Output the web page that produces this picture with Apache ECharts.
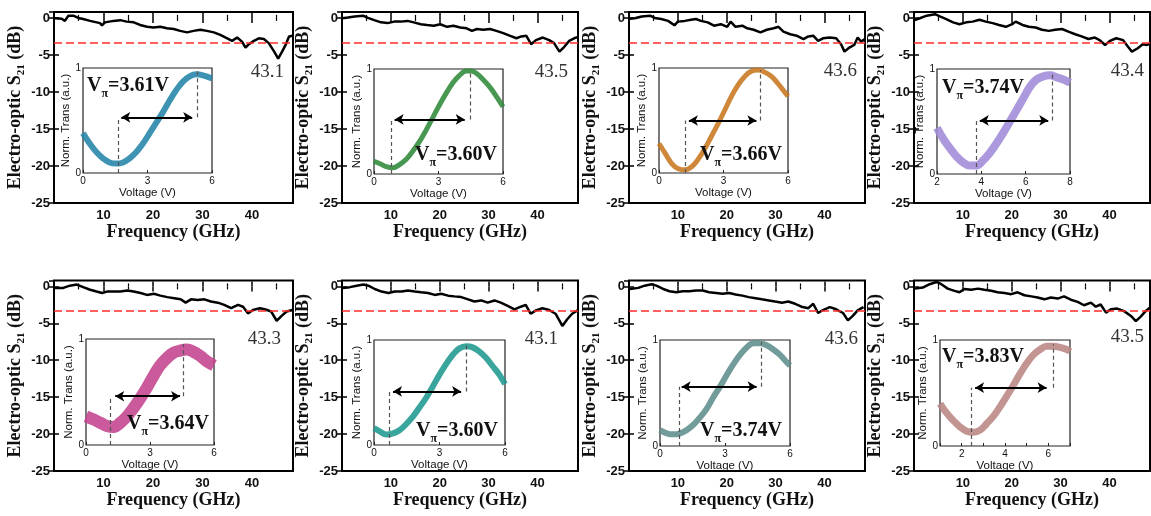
<!DOCTYPE html>
<html><head><meta charset="utf-8">
<script src="https://cdn.jsdelivr.net/npm/echarts@6/dist/echarts.min.js"></script>
<style>html,body{margin:0;padding:0;background:#fff}#c{width:1151px;height:516px}</style>
</head><body><div id="c"></div>
<script>
// ---------------- DATA ----------------
const bandwidthLabels = ['43.1', '43.5', '43.6', '43.4', '43.3', '43.1', '43.6', '43.5'];
const vpiLabels = ['3.61', '3.60', '3.66', '3.74', '3.64', '3.60', '3.74', '3.83'];
const threeDbLevel = -3.3;
const freqTicks = [10, 20, 30, 40];
const s21Ticks = [-25, -20, -15, -10, -5, 0];

// S21 response [frequency GHz, dB]
const s21Panel1 = [[0.2,-0.05],[1.55,-0.1],[2.2,-0.4],[2.9,0.3],[3.9,0.3],[4.9,0],[5.9,-0.15],[7.3,-0.4],[9.3,-0.7],[9.7,-1.0],[10.3,-0.6],[12.0,-0.4],[13.4,-0.3],[14.7,-0.5],[16.1,-0.6],[17.4,-0.95],[18.8,-1.2],[20.1,-1.3],[21.5,-1.2],[22.8,-1.4],[24.2,-1.5],[25.5,-1.75],[26.9,-1.95],[28.2,-1.75],[29.6,-1.6],[30.9,-1.75],[32.3,-1.95],[33.6,-2.3],[35.0,-2.75],[36.0,-3.1],[37.0,-2.65],[38.0,-3.2],[38.7,-4.0],[39.4,-3.55],[40.4,-3.1],[41.4,-2.75],[42.4,-2.85],[43.4,-3.4],[44.5,-4.55],[45.3,-5.5],[46.1,-4.55],[46.8,-3.65],[47.5,-2.5],[48.2,-2.4]];
const s21Panel2 = [[0.1,-0.05],[1.2,0.05],[2.6,0.2],[4.3,0.3],[5.3,0],[6.6,-0.3],[8.0,-0.6],[9.3,-0.7],[10.7,-0.5],[12.0,-0.5],[13.4,-0.4],[14.7,-0.6],[16.1,-0.85],[17.4,-0.95],[18.8,-1.05],[20.1,-0.85],[21.5,-1.2],[22.8,-1.05],[24.2,-1.3],[25.5,-1.4],[26.6,-1.75],[27.6,-1.5],[28.9,-1.6],[30.3,-1.5],[31.6,-1.75],[33.0,-2.05],[34.3,-2.4],[35.7,-2.75],[36.7,-2.5],[37.7,-2.4],[38.7,-3.55],[39.7,-3.0],[41.1,-2.65],[42.4,-3.0],[43.4,-3.4],[44.5,-4.55],[45.5,-3.9],[46.5,-3.1],[47.5,-2.75],[48.2,-2.6]];
const s21Panel3 = [[0.1,-0.1],[1.2,-0.05],[2.6,0.2],[4.3,0.3],[5.3,0],[6.6,-0.15],[8.0,-0.4],[9.3,-1.0],[10.0,-0.5],[11.4,-0.4],[12.7,-0.25],[13.7,-0.15],[14.7,-0.4],[16.1,-0.6],[17.4,-1.05],[18.8,-0.85],[20.1,-1.2],[20.8,-0.5],[21.8,-1.2],[23.2,-1.05],[24.2,-1.4],[25.5,-1.6],[26.9,-1.95],[28.2,-1.6],[29.6,-1.4],[30.6,-1.2],[31.6,-1.85],[33.0,-2.2],[34.3,-2.4],[35.7,-2.85],[36.7,-2.5],[37.7,-2.4],[38.7,-3.1],[39.7,-2.75],[41.1,-2.65],[42.4,-2.75],[43.4,-3.55],[44.1,-4.55],[45.1,-4.0],[46.1,-3.65],[46.8,-2.65],[47.5,-3.2],[48.2,-2.9]];
const s21Panel4 = [[0.1,-0.3],[1.2,-0.05],[2.6,0.3],[4.3,0.5],[5.3,0.2],[6.6,-0.15],[8.0,-0.6],[9.3,-0.85],[10.7,-0.6],[12.0,-0.5],[13.4,-0.25],[14.7,-0.5],[16.1,-0.7],[17.4,-0.95],[18.8,-1.2],[20.1,-0.85],[20.8,-0.5],[22.2,-0.95],[23.5,-1.2],[24.9,-1.3],[26.2,-1.6],[27.6,-1.75],[28.9,-1.6],[30.3,-1.5],[31.6,-1.85],[33.0,-2.2],[34.3,-2.5],[35.7,-2.85],[37.0,-2.65],[38.0,-3.0],[39.1,-3.65],[40.1,-3.1],[41.4,-2.75],[42.8,-3.0],[43.8,-3.9],[44.6,-4.55],[45.8,-4.1],[46.8,-3.55],[47.7,-3.65],[48.2,-3.5]];
const s21Panel5 = [[0.2,-0.2],[1.9,-0.2],[3.2,0.1],[4.6,0.25],[5.9,-0.1],[7.3,-0.45],[8.6,-0.7],[9.7,-0.9],[10.7,-0.7],[12.0,-0.7],[13.4,-0.7],[14.8,-0.55],[16.1,-0.7],[17.5,-0.9],[18.8,-1.15],[20.2,-1.0],[21.5,-1.25],[22.9,-1.45],[24.3,-1.6],[25.6,-1.75],[26.6,-2.2],[27.7,-1.75],[29.0,-1.85],[30.4,-1.75],[31.7,-2.05],[33.1,-2.2],[34.4,-2.5],[35.8,-2.95],[37.2,-2.5],[38.2,-2.75],[39.2,-3.65],[40.2,-3.2],[41.6,-2.95],[42.6,-3.1],[43.9,-3.4],[45.0,-4.65],[46.0,-4.0],[47.0,-3.4],[48.2,-3.2]];
const s21Panel6 = [[0.2,-0.2],[1.6,-0.1],[3.0,0.1],[4.4,0.25],[5.4,0.1],[6.7,-0.35],[8.1,-0.7],[9.5,-0.9],[10.8,-0.7],[12.2,-0.7],[13.5,-0.55],[14.9,-0.7],[16.2,-0.8],[17.6,-0.9],[19.0,-1.15],[20.3,-1.0],[21.7,-1.25],[23.0,-1.35],[24.4,-1.45],[25.8,-1.75],[27.1,-2.05],[28.5,-1.9],[29.8,-2.2],[31.2,-1.9],[32.5,-2.2],[33.9,-2.65],[35.3,-3.1],[36.6,-2.75],[37.6,-2.5],[38.6,-3.7],[39.7,-3.25],[41.0,-2.95],[42.4,-3.2],[43.7,-3.7],[45.1,-5.35],[46.1,-4.45],[47.1,-3.7],[48.2,-3.25]];
const s21Panel7 = [[0.2,-0.35],[1.9,-0.2],[3.2,0.1],[4.6,0.3],[5.6,0.1],[7.0,-0.35],[8.3,-0.65],[9.7,-0.8],[11.0,-0.65],[12.4,-0.65],[13.7,-0.55],[15.1,-0.55],[16.4,-0.8],[17.8,-0.9],[19.1,-1.0],[20.5,-0.9],[21.8,-1.1],[23.2,-1.25],[24.5,-1.45],[25.9,-1.6],[27.2,-1.75],[28.6,-1.9],[29.9,-2.05],[31.3,-2.2],[32.6,-2.05],[34.0,-2.35],[35.3,-2.75],[36.7,-2.95],[37.7,-2.35],[38.7,-3.6],[39.7,-3.2],[41.1,-2.8],[42.4,-3.1],[43.8,-3.6],[44.8,-4.6],[45.8,-4.0],[46.8,-3.25],[48.0,-2.8]];
const s21Panel8 = [[0.2,-0.3],[1.8,-0.15],[3.2,0.3],[4.6,0.6],[5.6,0.3],[6.9,-0.3],[8.3,-0.6],[9.3,-0.8],[10.3,-0.35],[11.7,-0.45],[13.1,-0.3],[14.4,-0.45],[15.8,-0.6],[17.1,-0.8],[18.5,-0.9],[19.9,-1.05],[21.2,-0.8],[22.6,-1.2],[24.0,-1.35],[25.3,-1.5],[26.7,-1.75],[28.0,-1.5],[29.4,-1.65],[30.7,-1.35],[32.1,-1.8],[33.5,-2.1],[34.8,-2.55],[36.2,-2.2],[37.2,-2.75],[38.2,-2.45],[39.3,-3.55],[40.3,-3.1],[41.6,-3.0],[43.0,-3.35],[44.4,-4.0],[45.4,-4.7],[46.4,-4.1],[47.4,-3.35],[48.3,-2.85]];

// Inset transmission curves [voltage V, normalized transmission]
const insetPanel1 = [[0,0.38],[0.31,0.28],[0.62,0.2],[0.93,0.14],[1.24,0.10],[1.55,0.09],[1.86,0.10],[2.17,0.14],[2.48,0.2],[2.79,0.28],[3.1,0.38],[3.41,0.48],[3.72,0.58],[4.03,0.69],[4.34,0.79],[4.65,0.87],[4.96,0.92],[5.27,0.94],[5.58,0.93],[6,0.90]];
const insetPanel2 = [[0,0.12],[0.26,0.10],[0.57,0.07],[0.88,0.06],[1.19,0.09],[1.5,0.14],[1.81,0.22],[2.12,0.31],[2.43,0.42],[2.74,0.54],[3.05,0.66],[3.36,0.77],[3.67,0.87],[3.98,0.94],[4.29,0.98],[4.53,0.98],[4.76,0.96],[5.07,0.90],[5.38,0.83],[5.69,0.74],[6,0.64]];
const insetPanel3 = [[0,0.28],[0.28,0.19],[0.59,0.09],[0.9,0.04],[1.21,0.03],[1.52,0.06],[1.82,0.13],[2.13,0.23],[2.44,0.35],[2.75,0.47],[3.06,0.6],[3.37,0.73],[3.68,0.84],[3.99,0.92],[4.3,0.97],[4.61,0.98],[4.92,0.96],[5.23,0.92],[5.54,0.85],[5.85,0.77],[6,0.73]];
const insetPanel4 = [[2,0.44],[2.27,0.34],[2.57,0.25],[2.87,0.17],[3.18,0.11],[3.48,0.08],[3.78,0.08],[4.08,0.13],[4.38,0.2],[4.68,0.29],[4.98,0.39],[5.29,0.5],[5.59,0.61],[5.89,0.72],[6.19,0.83],[6.49,0.9],[6.79,0.93],[7.1,0.94],[7.4,0.92],[7.7,0.9],[8,0.87]];
const insetPanel5 = [[0,0.27],[0.36,0.24],[0.67,0.21],[0.98,0.18],[1.29,0.17],[1.61,0.21],[1.92,0.27],[2.23,0.35],[2.54,0.44],[2.85,0.54],[3.16,0.65],[3.47,0.75],[3.79,0.82],[4.1,0.87],[4.41,0.89],[4.72,0.9],[5.03,0.88],[5.35,0.84],[5.66,0.79],[6,0.75]];
const insetPanel6 = [[0,0.16],[0.26,0.13],[0.56,0.10],[0.87,0.11],[1.17,0.14],[1.48,0.2],[1.78,0.27],[2.09,0.36],[2.39,0.45],[2.7,0.56],[3.0,0.67],[3.3,0.77],[3.61,0.86],[3.91,0.92],[4.22,0.94],[4.52,0.93],[4.83,0.89],[5.13,0.83],[5.44,0.75],[5.74,0.67],[6,0.58]];
const insetPanel7 = [[0,0.15],[0.31,0.12],[0.62,0.11],[0.92,0.12],[1.23,0.15],[1.54,0.2],[1.85,0.27],[2.15,0.35],[2.46,0.46],[2.77,0.56],[3.08,0.67],[3.38,0.77],[3.69,0.86],[4.0,0.93],[4.31,0.97],[4.62,0.97],[4.92,0.95],[5.23,0.91],[5.54,0.86],[5.85,0.79],[6,0.76]];
const insetPanel8 = [[1,0.4],[1.31,0.31],[1.62,0.24],[1.92,0.18],[2.23,0.14],[2.54,0.13],[2.85,0.15],[3.15,0.21],[3.46,0.28],[3.77,0.37],[4.08,0.47],[4.38,0.57],[4.69,0.68],[5.0,0.78],[5.31,0.86],[5.62,0.91],[5.92,0.94],[6.23,0.94],[6.54,0.93],[6.85,0.91],[7,0.89]];

// Inset annotations (V)
const vMin = [1.63, 0.81, 1.21, 3.75, 1.14, 0.69, 0.88, 2.42];
const vMax = [5.32, 4.48, 4.72, 7.2, 4.57, 4.22, 4.65, 6.23];
const arrowLevel = [0.53, 0.52, 0.5, 0.51, 0.46, 0.51, 0.56, 0.55];
const arrowFrom = [1.78, 0.96, 1.39, 3.93, 1.37, 0.87, 1.0, 2.62];
const arrowTo = [5.08, 4.22, 4.53, 7.02, 4.41, 3.99, 4.46, 5.92];
const peakLevel = [0.97, 0.98, 0.98, 0.95, 0.95, 0.96, 0.98, 0.96];
const insetXMin = [0, 0, 0, 2, 0, 0, 0, 1];
const insetXMax = [6, 6, 6, 8, 6, 6, 6, 7];
const insetXStep = [3, 3, 3, 2, 3, 3, 3, 1];
const insetXTicks = [[0,3,6],[0,3,6],[0,3,6],[2,4,6,8],[0,3,6],[0,3,6],[0,3,6],[2,4,6]];
const insetYTicks = [0, 1];

const s21Sets = [s21Panel1, s21Panel2, s21Panel3, s21Panel4, s21Panel5, s21Panel6, s21Panel7, s21Panel8];
const insetSets = [insetPanel1, insetPanel2, insetPanel3, insetPanel4, insetPanel5, insetPanel6, insetPanel7, insetPanel8];

// ---------------- LAYOUT / STYLE ----------------
const colLeft = [54, 342, 629, 914];
const colWidth = [239, 236, 236, 236];
const rowTop = [12, 280.5];
const rowHeight = [191, 190.5];
const insetBox = [[83,68,129,105],[374,69,129,105],[659,68,129,105],[937,69,133,105],
                  [86,339,128,106],[374,340,131,105],[660,340,130,106],[940,340,130,106]];
const insetColor = ['#2384a8', '#2f8a3a', '#c8781f', '#9f8ad8', '#c4438e', '#1f9890', '#5f8e8c', '#b98684'];
const insetBand = [6, 5, 5, 8, 12, 6, 6, 7];
const bwPos = [[284,72],[568,72],[857,71],[1144,71],[281,339],[558,339],[858,339],[1144,337]];
const vpiPos = [[87,88],[415,157],[700,157],[942,90],[127,426],[416,433],[700,433],[942,359]];

const serif = '"Times New Roman", "Liberation Serif", serif';
const sans = 'Arial, "Liberation Sans", sans-serif';

const option = { animation: false, backgroundColor: '#fff', grid: [], xAxis: [], yAxis: [], series: [], graphic: [] };

for (let p = 0; p < 8; p++) {
  const row = Math.floor(p / 4), col = p % 4;
  // main grid
  const gi = option.grid.length;
  option.grid.push({ left: colLeft[col], top: rowTop[row], width: colWidth[col], height: rowHeight[row],
    show: true, borderColor: '#000', borderWidth: 2, backgroundColor: 'transparent' });
  const tickStyle = { inside: true, length: 5, lineStyle: { color: '#000', width: 1.5 } };
  const minorStyle = { show: true, splitNumber: 2, length: 3, lineStyle: { color: '#000', width: 1.2 } };
  const xi = option.xAxis.length;
  option.xAxis.push({ gridIndex: gi, type: 'value', min: 0, max: 48.3, interval: 10, position: 'bottom',
    axisLine: { show: false }, axisTick: tickStyle, minorTick: minorStyle, splitLine: { show: false },
    axisLabel: { showMinLabel: false, showMaxLabel: false, margin: 6, fontSize: 13, fontWeight: 'bold', color: '#111', fontFamily: sans,
      formatter: v => freqTicks.includes(v) ? String(v) : '' },
    name: 'Frequency (GHz)', nameLocation: 'middle', nameGap: 18,
    nameTextStyle: { fontSize: 18, fontWeight: 'bold', fontFamily: serif, color: '#111', verticalAlign: 'top' } });
  option.xAxis.push({ gridIndex: gi, type: 'value', min: 0, max: 48.3, interval: 10, position: 'top',
    axisLine: { show: false }, axisTick: tickStyle, minorTick: minorStyle, splitLine: { show: false }, axisLabel: { show: false } });
  const yi = option.yAxis.length;
  option.yAxis.push({ gridIndex: gi, type: 'value', min: -25, max: 0.8, interval: 5,
    axisLine: { show: false }, axisTick: tickStyle, splitLine: { show: false },
    axisLabel: { showMaxLabel: false, margin: 4, fontSize: 13, fontWeight: 'bold', color: '#111', fontFamily: sans,
      formatter: v => s21Ticks.includes(v) ? String(v) : '' },
    name: '{a|Electro-optic S}{b|21}{a| (dB)}', nameLocation: 'middle', nameRotate: 90, nameGap: 27,
    nameTextStyle: { rich: {
      a: { fontSize: 18, fontWeight: 'bold', fontFamily: serif, color: '#111', verticalAlign: 'bottom', padding: [0, 0, 3, 0] },
      b: { fontSize: 11, fontWeight: 'bold', fontFamily: serif, color: '#111', verticalAlign: 'bottom' } } } });
  option.yAxis.push({ gridIndex: gi, type: 'value', min: -25, max: 0.8, interval: 5, position: 'right',
    axisLine: { show: false }, axisTick: tickStyle, splitLine: { show: false }, axisLabel: { show: false } });

  option.series.push({ type: 'line', xAxisIndex: xi, yAxisIndex: yi, data: s21Sets[p], showSymbol: false,
    lineStyle: { color: '#000', width: 2.5 }, z: 3,
    markLine: { silent: true, symbol: 'none', label: { show: false },
      lineStyle: { color: '#ff2b2b', type: [8, 4], width: 1.6 }, data: [{ yAxis: threeDbLevel }] } });

  // inset grid
  const b = insetBox[p];
  const ig = option.grid.length;
  option.grid.push({ left: b[0], top: b[1], width: b[2], height: b[3], show: true, borderColor: '#222', borderWidth: 1.2, backgroundColor: '#fff' });
  const ixi = option.xAxis.length;
  const ticks = insetXTicks[p];
  option.xAxis.push({ gridIndex: ig, type: 'value', min: insetXMin[p], max: insetXMax[p], interval: insetXStep[p],
    axisLine: { show: false }, axisTick: { inside: true, length: 3, lineStyle: { color: '#222', width: 1 } }, splitLine: { show: false },
    axisLabel: { margin: 3, fontSize: 10, color: '#111', fontFamily: sans, formatter: v => ticks.includes(v) ? String(v) : '' },
    name: 'Voltage (V)', nameLocation: 'middle', nameGap: 14,
    nameTextStyle: { fontSize: 11.5, color: '#111', fontFamily: sans, verticalAlign: 'top' } });
  const iyi = option.yAxis.length;
  option.yAxis.push({ gridIndex: ig, type: 'value', min: 0, max: 1, interval: 1,
    axisLine: { show: false }, axisTick: { show: false }, splitLine: { show: false },
    axisLabel: { margin: 2, fontSize: 10, color: '#111', fontFamily: sans, formatter: v => insetYTicks.includes(v) ? String(v) : '' },
    name: 'Norm. Trans (a.u.)', nameLocation: 'middle', nameRotate: 90, nameGap: 3,
    nameTextStyle: { fontSize: 11.5, color: '#111', fontFamily: sans } });

  const dash = { type: [4, 3], color: '#555', width: 1.2 };
  option.series.push({ type: 'line', xAxisIndex: ixi, yAxisIndex: iyi, data: insetSets[p], smooth: 0.4, showSymbol: false,
    lineStyle: { color: insetColor[p], width: insetBand[p], opacity: 0.88 }, z: 4,
    markLine: { silent: true, symbol: 'none', label: { show: false }, z: 5,
      data: [
        [{ coord: [vMin[p], 0], lineStyle: dash }, { coord: [vMin[p], arrowLevel[p]] }],
        [{ coord: [vMax[p], arrowLevel[p]], lineStyle: dash }, { coord: [vMax[p], peakLevel[p]] }],
        [{ coord: [arrowFrom[p], arrowLevel[p]], symbol: 'arrow', symbolSize: [8, 9], lineStyle: { type: 'solid', color: '#000', width: 2 } },
         { coord: [arrowTo[p], arrowLevel[p]], symbol: 'arrow', symbolSize: [8, 9] }]
      ] } });

  // texts
  option.graphic.push({ type: 'text', z: 100, style: { text: bandwidthLabels[p], x: bwPos[p][0], y: bwPos[p][1],
    align: 'right', verticalAlign: 'middle', font: '19px ' + serif, fill: '#333' } });
  option.graphic.push({ type: 'text', z: 100, style: { text: '{v|V}{s|π}{v|=' + vpiLabels[p] + 'V}', x: vpiPos[p][0], y: vpiPos[p][1],
    align: 'left', verticalAlign: 'middle',
    rich: { v: { fontSize: 20, fontWeight: 'bold', fontFamily: serif, fill: '#111', verticalAlign: 'bottom', padding: [0, 0, 4, 0] },
            s: { fontSize: 12, fontWeight: 'bold', fontFamily: serif, fill: '#111', verticalAlign: 'bottom' } } } });
}

const chart = echarts.init(document.getElementById('c'), null, { renderer: 'canvas' });
chart.setOption(option);
</script></body></html>
